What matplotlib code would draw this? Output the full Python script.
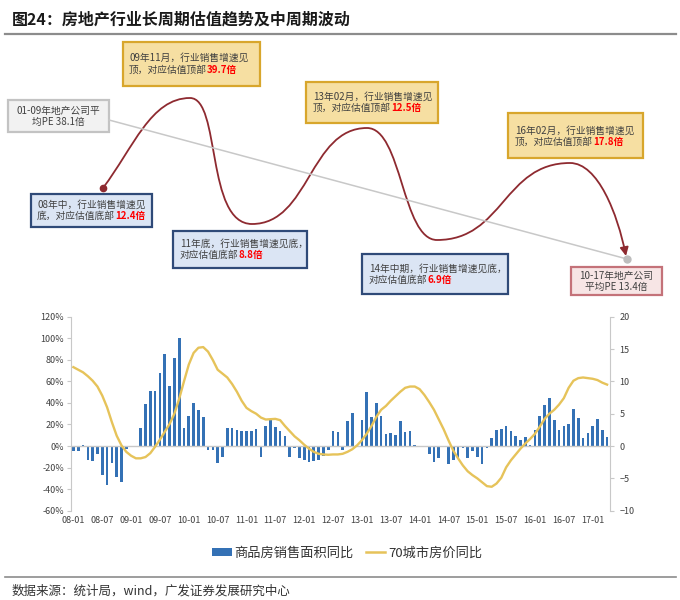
import matplotlib
matplotlib.use("Agg")
import matplotlib.pyplot as plt
import numpy as np
from matplotlib.path import Path
from matplotlib.patches import Rectangle, FancyArrowPatch, Patch
from matplotlib.lines import Line2D

plt.rcParams['font.family'] = ['Noto Sans CJK SC', 'DejaVu Sans']

# 商品房销售面积同比 (%), monthly 08-01 .. 17-04
sales_yoy = [-4.6, -4.6, 1.2, -12.5, -14, -7.7, -27, -36, -16, -29, -33, -2.5,
             -1.2, -1, 16.5, 39, 51, 51, 68, 85, 56, 81.5, 100, 16.3,
             28, 39.5, 33, 27, -3.4, -3.4, -15.5, -10.5, 17, 16.3, 14.5, 13.5,
             14, 14, 16, -10.2, 18.5, 24.3, 17.8, 13.5, 9.5, -10, -2, -11,
             -13, -14.8, -13.5, -13, -9.3, -3.6, 13.5, 12.8, -4, 23.5, 30.5, 0,
             24.6, 49.8, 27, 40, 28.3, 10.8, 12.5, 10.2, 23, 12.6, 14.4, 0.5,
             0.3, -0.6, -7.8, -14.6, -11, -0.8, -17, -12.8, -11, -1.6, -11, -5,
             -10.2, -17, -1.8, 7.2, 15.2, 16.2, 19, 14.4, 9, 6, 8.4, 1.2,
             15, 28.2, 38, 44.4, 24.6, 15, 19, 20, 34, 26.4, 7.8, 12,
             18.6, 25.2, 15, 8]

# 70城市房价同比, right axis
price_yoy = [12.2, 11.8, 11.4, 10.8, 10.1, 9.2, 7.8, 6.0, 3.7, 1.6, 0.1, -0.9,
             -1.5, -1.9, -1.9, -1.7, -1.1, -0.1, 1.0, 2.2, 3.4, 5.0, 7.3, 10.0,
             12.6, 14.4, 15.2, 15.3, 14.6, 13.3, 11.8, 11.2, 10.6, 9.6, 8.4, 7.0,
             5.9, 5.4, 5.0, 4.4, 4.1, 4.15, 4.2, 4.0, 3.1, 2.3, 1.5, 0.9,
             0.2, -0.4, -0.9, -1.2, -1.3, -1.35, -1.3, -1.3, -1.2, -0.9, -0.5, 0.1,
             0.9, 1.9, 3.1, 4.5, 5.6, 6.2, 7.0, 7.7, 8.4, 9.0, 9.2, 9.2,
             8.8, 7.9, 6.8, 5.6, 4.1, 2.6, 0.9, -0.7, -1.9, -3.0, -3.9, -4.5,
             -5.0, -5.6, -6.2, -6.3, -5.8, -4.9, -3.3, -2.2, -1.3, -0.4, 0.4, 1.1,
             1.9, 3.0, 4.2, 5.0, 5.6, 6.4, 7.4, 9.0, 10.1, 10.5, 10.6, 10.5,
             10.4, 10.2, 9.8, 9.5]

tick_labels = ['08-01', '08-07', '09-01', '09-07', '10-01', '10-07', '11-01', '11-07',
               '12-01', '12-07', '13-01', '13-07', '14-01', '14-07', '15-01', '15-07',
               '16-01', '16-07', '17-01']

# schematic cycle curve (peaks / troughs), pixel space of the figure
cycle_pts = [(103, 188), (190, 98), (252, 224), (367, 128), (437, 240), (570, 163), (626, 256)]
avg_line = [(109, 120), (627, 259)]

fig = plt.figure(figsize=(6.8, 6.0), dpi=100)

# ---- overlay for title, schematic and boxes ----
ov = fig.add_axes([0, 0, 1, 1])
ov.set_xlim(0, 680)
ov.set_ylim(600, 0)
ov.axis('off')

ov.text(12, 20, '图24：房地产行业长周期估值趋势及中周期波动', fontsize=11.5,
        fontweight='bold', color='#1a1a1a', va='center')
ov.plot([5, 676], [34, 34], color='#8c8c8c', lw=1.6)
ov.plot([5, 676], [577, 577], color='#8c8c8c', lw=1.2)
ov.text(12, 591, '数据来源：统计局，wind，广发证券发展研究中心', fontsize=9,
        color='#333333', va='center')

# long-term average line
ov.plot([p[0] for p in avg_line], [p[1] for p in avg_line], color='#c8c8c8', lw=1.1)
ov.plot(avg_line[1][0], avg_line[1][1], 'o', color='#bdbdbd', ms=5)

# bezier curve through the cycle points
verts = [cycle_pts[0]]
codes = [Path.MOVETO]
k_in = [0.45, 0.75, 0.5, 0.5, 0.5, None]
k_out = [None, 0.5, 0.5, 0.5, 0.5, 0.5]
for i in range(1, len(cycle_pts)):
    x0, y0 = cycle_pts[i - 1]
    x1, y1 = cycle_pts[i]
    w = x1 - x0
    if i == 1:
        c1 = (x0 + 0.35 * w, y0 - 0.45 * (y0 - y1))
    else:
        c1 = (x0 + k_out[i - 1] * w, y0)
    if i == len(cycle_pts) - 1:
        c2 = (x1 - 0.15 * w, y1 - 0.45 * (y1 - y0))
    else:
        c2 = (x1 - k_in[i - 1] * w, y1)
    verts += [c1, c2, (x1, y1)]
    codes += [Path.CURVE4] * 3
curve = FancyArrowPatch(path=Path(verts, codes), arrowstyle='-|>,head_length=5,head_width=2.5',
                        color='#8e2a30', lw=1.3, mutation_scale=1)
ov.add_patch(curve)
ov.plot(cycle_pts[0][0], cycle_pts[0][1], 'o', color='#8e2a30', ms=4.5)

styles = {
    'gold': ('#f6dfa2', '#d8a62c'),
    'blue': ('#dbe5f4', '#2f4a78'),
    'gray': ('#f2f2f2', '#c3c3c3'),
    'pink': ('#f7e5e5', '#c47279'),
}
fs = 7.0


def box(x0, y0, x1, y1, kind):
    fc, ec = styles[kind]
    ov.add_patch(Rectangle((x0, y0), x1 - x0, y1 - y0, facecolor=fc, edgecolor=ec, lw=1.6))


def two_tone(x, y, plain, red):
    t = ov.text(x, y, plain, fontsize=fs, color='#404040', va='center', ha='left')
    ov.annotate(red, xy=(1, 0.5), xycoords=t, va='center', ha='left',
                color='#ff0000', fontweight='bold', fontsize=fs)


box(123, 42, 260, 86, 'gold')
ov.text(129, 58, '09年11月，行业销售增速见', fontsize=fs, color='#404040', va='center')
two_tone(129, 70, '顶，对应估值顶部', '39.7倍')

box(306, 82, 438, 123, 'gold')
ov.text(313, 97, '13年02月，行业销售增速见', fontsize=fs, color='#404040', va='center')
two_tone(313, 108, '顶，对应估值顶部', '12.5倍')

box(508, 113, 643, 158, 'gold')
ov.text(515, 131, '16年02月，行业销售增速见', fontsize=fs, color='#404040', va='center')
two_tone(515, 142, '顶，对应估值顶部', '17.8倍')

box(8, 100, 109, 132, 'gray')
ov.text(58, 111, '01-09年地产公司平', fontsize=fs, color='#404040', va='center', ha='center')
ov.text(58, 122, '均PE 38.1倍', fontsize=fs, color='#404040', va='center', ha='center')

box(31, 194, 152, 227, 'blue')
ov.text(37, 205, '08年中，行业销售增速见', fontsize=fs, color='#404040', va='center')
two_tone(37, 216, '底，对应估值底部', '12.4倍')

box(173, 231, 307, 268, 'blue')
ov.text(180, 244, '11年底，行业销售增速见底，', fontsize=fs, color='#404040', va='center')
two_tone(180, 255, '对应估值底部', '8.8倍')

box(362, 254, 508, 294, 'blue')
ov.text(369, 269, '14年中期，行业销售增速见底，', fontsize=fs, color='#404040', va='center')
two_tone(369, 280, '对应估值底部', '6.9倍')

box(571, 267, 662, 295, 'pink')
ov.text(616, 276, '10-17年地产公司', fontsize=fs, color='#404040', va='center', ha='center')
ov.text(616, 287, '平均PE 13.4倍', fontsize=fs, color='#404040', va='center', ha='center')

# ---- bottom chart ----
ax = fig.add_axes([71 / 680, 1 - 510.7 / 600, (609.5 - 71) / 680, (510.7 - 316.7) / 600])
ax.patch.set_alpha(0)
idx = np.arange(len(sales_yoy))
ax.bar(idx, sales_yoy, width=0.55, color='#3471b5')
ax.axhline(0, color='#c8c8c8', lw=1)
ax.set_xlim(-0.5, 111.5)
ax.set_ylim(-60, 120)
ax.set_yticks(np.arange(-60, 121, 20))
ax.set_yticklabels([f'{v}%' for v in range(-60, 121, 20)])
ax.set_xticks(np.arange(0, 109, 6))
ax.set_xticklabels(tick_labels)
for s in ['top', 'right', 'bottom']:
    ax.spines[s].set_visible(False)
ax.spines['left'].set_color('#c8c8c8')
ax.tick_params(axis='y', length=3, color='#c8c8c8', labelsize=6.5, labelcolor='#404040', pad=2)
ax.tick_params(axis='x', length=0, labelsize=6.5, labelcolor='#404040', pad=4)

ax2 = ax.twinx()
ax2.plot(idx, price_yoy, color='#e6c35a', lw=1.7)
ax2.set_ylim(-10, 20)
ax2.set_yticks(np.arange(-10, 21, 5))
for s in ['top', 'left', 'bottom']:
    ax2.spines[s].set_visible(False)
ax2.spines['right'].set_color('#c8c8c8')
ax2.tick_params(axis='y', length=3, color='#c8c8c8', labelsize=6.5, labelcolor='#404040', pad=4)

handles = [Patch(facecolor='#3471b5', edgecolor='none'),
           Line2D([0], [0], color='#e6c35a', lw=1.8)]
fig.legend(handles, ['商品房销售面积同比', '70城市房价同比'], loc='center',
           bbox_to_anchor=(347 / 680, 1 - 553 / 600), ncol=2, frameon=False,
           fontsize=9.5, handlelength=1.5, handleheight=0.5, columnspacing=0.9,
           handletextpad=0.2, labelcolor='#333333')

fig.savefig('out.png', dpi=100)
